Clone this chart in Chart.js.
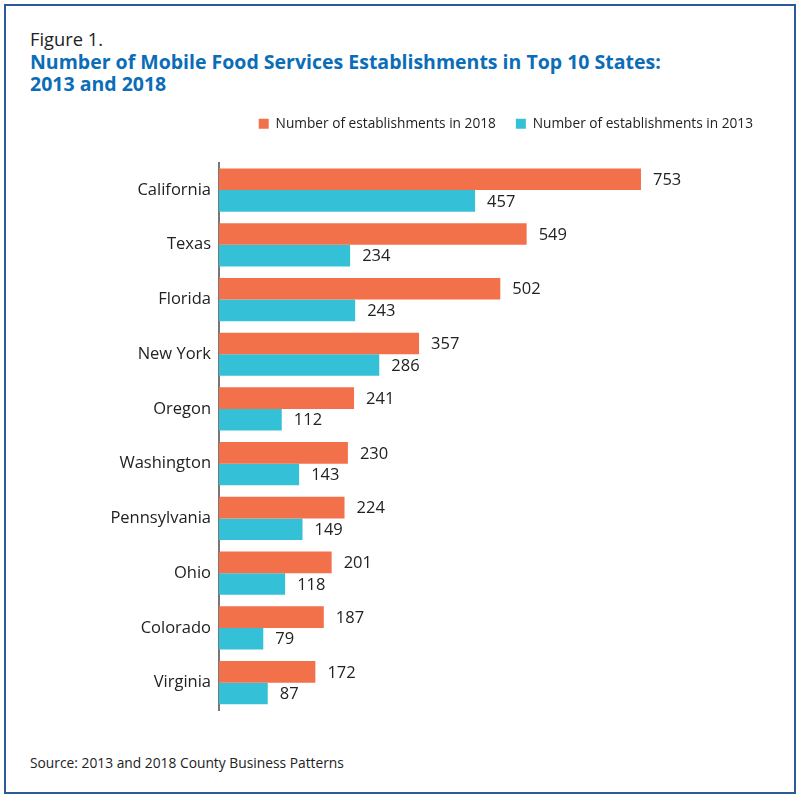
<!DOCTYPE html>
<html>
<head>
<meta charset="utf-8">
<script src="https://cdn.jsdelivr.net/npm/chart.js@4"></script>
<style>
  body { margin: 0; background: #fff; }
  #wrap { position: relative; width: 800px; height: 799px; font-family: "Open Sans", sans-serif; }
  #frame { position: absolute; left: 4px; top: 4px; width: 788px; height: 786px; border: 2px solid #2a5a97; }
  #fig { position: absolute; left: 30px; top: 26px; font-size: 18.3px; color: #222; }
  #title { position: absolute; left: 30px; top: 51px; font-size: 19.5px; font-weight: bold; color: #0b6db7; line-height: 22px; }
  #source { position: absolute; left: 30px; top: 753px; font-size: 13.8px; color: #222; }
  canvas { position: absolute; left: 0; top: 0; }
</style>
</head>
<body>
<div id="wrap">
  <div id="frame"></div>
  <div id="fig">Figure 1.</div>
  <div id="title">Number of Mobile Food Services Establishments in Top 10 States:<br>2013 and 2018</div>
  <div id="source">Source: 2013 and 2018 County Business Patterns</div>
  <canvas id="chart" width="800" height="799"></canvas>
</div>
<script>
//Data
let states = ["California", "Texas", "Florida", "New York", "Oregon", "Washington", "Pennsylvania", "Ohio", "Colorado", "Virginia"]
let est2018 = [753, 549, 502, 357, 241, 230, 224, 201, 187, 172]
let est2013 = [457, 234, 243, 286, 112, 143, 149, 118, 79, 87]

//Draw value next to each bar
const valueLabels = {
	id: "valueLabels",
	afterDatasetsDraw(chart) {
		const ctx = chart.ctx
		ctx.save()
		ctx.font = '16.5px "Open Sans", sans-serif'
		ctx.fillStyle = "#222"
		ctx.textBaseline = "middle"
		chart.data.datasets.forEach((ds, i) => {
			chart.getDatasetMeta(i).data.forEach((bar, j) => {
				ctx.fillText(ds.data[j], bar.x + 12, bar.y + 1)
			})
		})
		ctx.restore()
	}
}

//Extra room under the legend
const legendGap = {
	id: "legendGap",
	beforeInit(chart) {
		const fit = chart.legend.fit
		chart.legend.fit = function () {
			fit.bind(chart.legend)()
			this.height += 22
		}
	}
}

new Chart("chart", {
	type: "bar",
	data: {
		labels: states,
		datasets: [{
			label: "Number of establishments in 2018",
			backgroundColor: "#f3714a",
			data: est2018
		}, {
			label: "Number of establishments in 2013",
			backgroundColor: "#34c1d7",
			data: est2013
		}]
	},
	plugins: [valueLabels, legendGap],
	options: {
		indexAxis: "y",
		responsive: false,
		animation: false,
		categoryPercentage: 0.79,
		barPercentage: 1,
		layout: { padding: { top: 97, right: 27, bottom: 89, left: 0 } },
		plugins: {
			legend: {
				align: "end",
				labels: {
					boxWidth: 10,
					boxHeight: 10,
					color: "#222",
					padding: 20,
					font: { family: "Open Sans", size: 13.7 }
				}
			},
			tooltip: { enabled: false }
		},
		scales: {
			x: {
				display: false,
				min: 0,
				max: 988.6
			},
			y: {
				afterFit: (s) => { s.width = 219 },
				grid: { display: false, drawTicks: false },
				border: { color: "#777", width: 2 },
				ticks: {
					color: "#222",
					padding: 8,
					font: { family: "Open Sans", size: 16.5 }
				}
			}
		}
	}
})
</script>
</body>
</html>
